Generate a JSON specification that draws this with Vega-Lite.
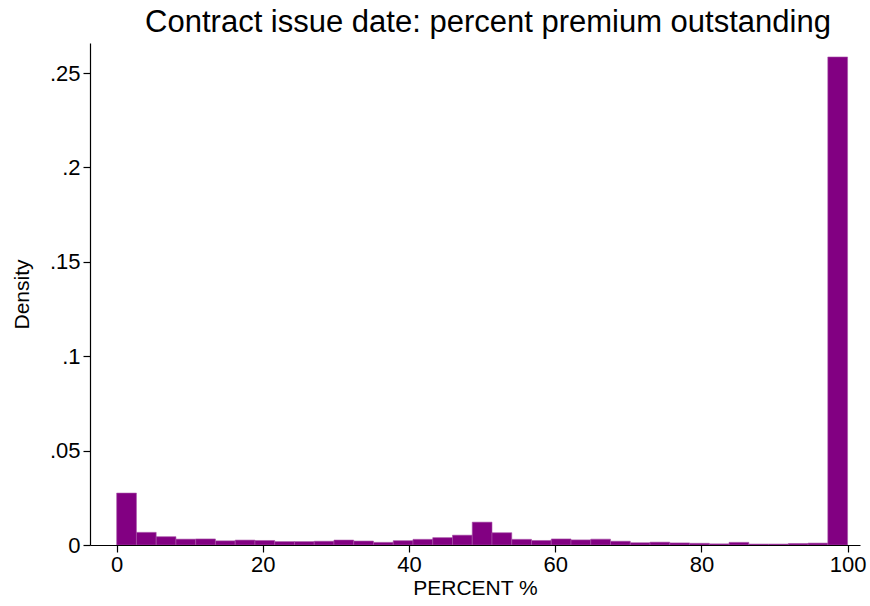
{
  "$schema": "https://vega.github.io/schema/vega-lite/v6.json",
  "width": 770,
  "height": 502,
  "autosize": {"type": "none"},
  "padding": {"left": 90, "top": 43, "right": 10, "bottom": 61},
  "background": "white",
  "title": {
    "text": "Contract issue date: percent premium outstanding",
    "font": "Liberation Sans",
    "fontSize": 31,
    "fontWeight": "normal",
    "color": "black",
    "anchor": "middle",
    "dx": 13,
    "offset": 4
  },
  "data": {
    "values": [
      {"b0": 0.0, "b1": 2.7027, "density": 0.0275},
      {"b0": 2.7027, "b1": 5.4054, "density": 0.0067},
      {"b0": 5.4054, "b1": 8.1081, "density": 0.0044},
      {"b0": 8.1081, "b1": 10.8108, "density": 0.0031},
      {"b0": 10.8108, "b1": 13.5135, "density": 0.0032},
      {"b0": 13.5135, "b1": 16.2162, "density": 0.0022},
      {"b0": 16.2162, "b1": 18.9189, "density": 0.0026},
      {"b0": 18.9189, "b1": 21.6216, "density": 0.0024},
      {"b0": 21.6216, "b1": 24.3243, "density": 0.0018},
      {"b0": 24.3243, "b1": 27.027, "density": 0.0018},
      {"b0": 27.027, "b1": 29.7297, "density": 0.002},
      {"b0": 29.7297, "b1": 32.4324, "density": 0.0026},
      {"b0": 32.4324, "b1": 35.1351, "density": 0.0021},
      {"b0": 35.1351, "b1": 37.8378, "density": 0.0014},
      {"b0": 37.8378, "b1": 40.5405, "density": 0.0023},
      {"b0": 40.5405, "b1": 43.2432, "density": 0.003},
      {"b0": 43.2432, "b1": 45.9459, "density": 0.0039},
      {"b0": 45.9459, "b1": 48.6486, "density": 0.0052},
      {"b0": 48.6486, "b1": 51.3514, "density": 0.0121},
      {"b0": 51.3514, "b1": 54.0541, "density": 0.0065},
      {"b0": 54.0541, "b1": 56.7568, "density": 0.003},
      {"b0": 56.7568, "b1": 59.4595, "density": 0.0024},
      {"b0": 59.4595, "b1": 62.1622, "density": 0.0032},
      {"b0": 62.1622, "b1": 64.8649, "density": 0.0027},
      {"b0": 64.8649, "b1": 67.5676, "density": 0.0031},
      {"b0": 67.5676, "b1": 70.2703, "density": 0.002},
      {"b0": 70.2703, "b1": 72.973, "density": 0.0012},
      {"b0": 72.973, "b1": 75.6757, "density": 0.0015},
      {"b0": 75.6757, "b1": 78.3784, "density": 0.0011},
      {"b0": 78.3784, "b1": 81.0811, "density": 0.0009},
      {"b0": 81.0811, "b1": 83.7838, "density": 0.0006},
      {"b0": 83.7838, "b1": 86.4865, "density": 0.0014},
      {"b0": 86.4865, "b1": 89.1892, "density": 0.0005},
      {"b0": 89.1892, "b1": 91.8919, "density": 0.0005},
      {"b0": 91.8919, "b1": 94.5946, "density": 0.0008},
      {"b0": 94.5946, "b1": 97.2973, "density": 0.001},
      {"b0": 97.2973, "b1": 100.0, "density": 0.2585}
    ]
  },
  "mark": {"type": "bar", "color": "#820082", "stroke": "#a850a8", "strokeWidth": 0.6, "clip": true},
  "encoding": {
    "x": {
      "field": "b0",
      "type": "quantitative",
      "scale": {"domain": [-3.65, 101.7], "nice": false, "zero": false},
      "axis": {
        "title": "PERCENT %",
        "values": [0, 20, 40, 60, 80, 100],
        "grid": false,
        "domainColor": "black",
        "domainWidth": 1.2,
        "tickColor": "black",
        "tickSize": 7,
        "tickWidth": 1.2,
        "labelFont": "Liberation Sans",
        "labelFontSize": 22,
        "labelColor": "black",
        "labelPadding": 2,
        "labelFlush": false,
        "titleFont": "Liberation Sans",
        "titleFontSize": 21,
        "titleFontWeight": "normal",
        "titleColor": "black",
        "titlePadding": 2
      }
    },
    "x2": {"field": "b1"},
    "y": {
      "field": "density",
      "type": "quantitative",
      "scale": {"domain": [0, 0.2659], "nice": false, "zero": true},
      "axis": {
        "title": "Density",
        "values": [0, 0.05, 0.1, 0.15, 0.2, 0.25],
        "labelExpr": "datum.value == 0 ? '0' : slice(format(datum.value, '~g'), 1)",
        "grid": false,
        "domainColor": "black",
        "domainWidth": 1.2,
        "tickColor": "black",
        "tickSize": 7,
        "tickWidth": 1.2,
        "labelFont": "Liberation Sans",
        "labelFontSize": 22,
        "labelColor": "black",
        "labelPadding": 3,
        "labelFlush": false,
        "titleFont": "Liberation Sans",
        "titleFontSize": 21,
        "titleFontWeight": "normal",
        "titleColor": "black",
        "titlePadding": 17
      }
    },
    "y2": {"datum": 0}
  },
  "config": {"view": {"stroke": null}}
}
